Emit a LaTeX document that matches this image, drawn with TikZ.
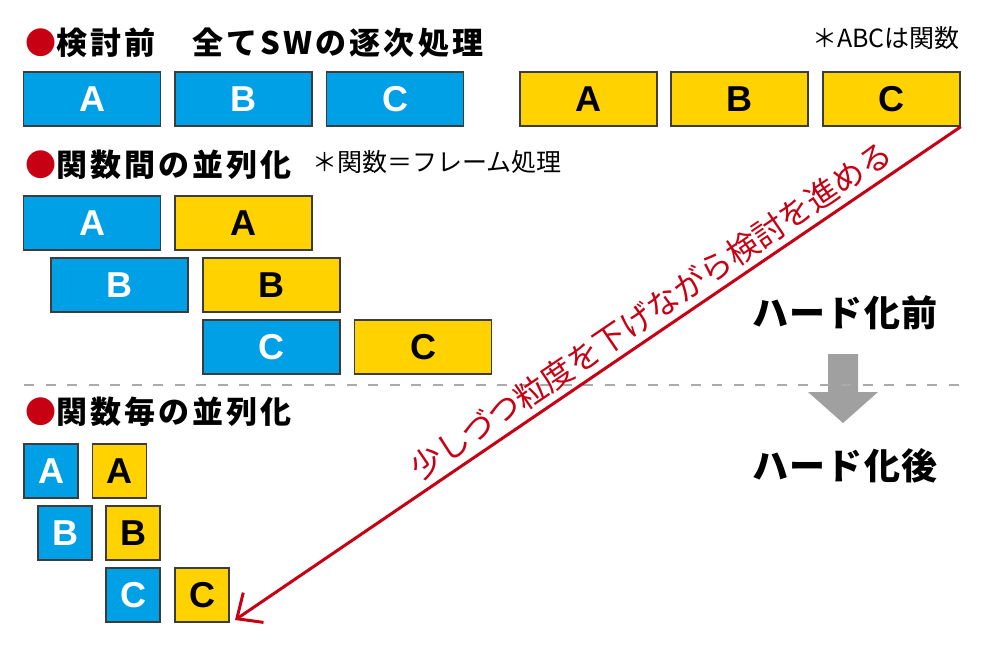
\documentclass[tikz,border=0pt]{standalone}
\usepackage{fontspec}
\setmainfont{Noto Sans CJK JP}
\newfontfamily\latinfont{Liberation Sans}
\usetikzlibrary{arrows.meta}
\definecolor{swblue}{RGB}{0,160,230}
\definecolor{hwyellow}{RGB}{255,210,0}
\definecolor{edgegray}{RGB}{60,60,60}
\definecolor{notered}{RGB}{200,0,20}
\definecolor{dashgray}{RGB}{170,170,170}
\definecolor{arrowgray}{RGB}{160,160,160}
\tikzset{
	funcbox/.style={draw=edgegray, line width=1.5pt, minimum height=54pt,
		inner sep=0pt, font=\latinfont\bfseries\fontsize{36}{36}\selectfont},
	swbox/.style={funcbox, fill=swblue, text=white},
	hwbox/.style={funcbox, fill=hwyellow, text=black},
	wide/.style={minimum width=137pt},
	narrow/.style={minimum width=54pt},
	heading/.style={anchor=west, inner sep=0pt,
		font=\bfseries\fontsize{31}{31}\selectfont\addfontfeature{LetterSpace=10}},
	remark/.style={inner sep=0pt, font=\fontsize{25}{25}\selectfont},
	stage/.style={inner sep=0pt,
		font=\bfseries\fontsize{36}{36}\selectfont\addfontfeature{LetterSpace=3}},
}

\begin{document}
\begin{tikzpicture}[x=1pt, y=-1pt]
\useasboundingbox (0,0) rectangle (985,645);

% headings
\node[heading] (head1) at (25,43) {\textcolor{notered}{●}検討前　全てSWの逐次処理};
\node[remark, anchor=east] (note1) at (960,38) {＊ABCは関数};
\node[heading] (head2) at (25,165) {\textcolor{notered}{●}関数間の並列化};
\node[remark, anchor=west] (note2) at (312,162) {＊関数＝フレーム処理};
\node[heading] (head3) at (25,412) {\textcolor{notered}{●}関数毎の並列化};

% sequential
\foreach \n/\x/\l in {a/92/A, b/243.5/B, c/395/C}
\node[swbox, wide] (sw1\n) at (\x,99) {\l};
\foreach \n/\x/\l in {a/588.5/A, b/739.5/B, c/891.5/C}
\node[hwbox, wide] (hw1\n) at (\x,99) {\l};

% between functions
\foreach \n/\x/\y/\l in {a/92/223/A, b/119.5/285/B, c/271.5/347/C}
\node[swbox, wide] (sw2\n) at (\x,\y) {\l};
\foreach \n/\x/\y/\l in {a/243.5/223/A, b/271.5/285/B, c/423/347/C}
\node[hwbox, wide] (hw2\n) at (\x,\y) {\l};

% per function
\foreach \n/\x/\y/\l in {a/51/471/A, b/65/533/B, c/133/595/C}
\node[swbox, narrow] (sw3\n) at (\x,\y) {\l};
\foreach \n/\x/\y/\l in {a/119.5/471/A, b/133/533/B, c/202/595/C}
\node[hwbox, narrow] (hw3\n) at (\x,\y) {\l};

% before / after
\fill[arrowgray] (828,354) -- (858,354) -- (858,392) -- (878,392)
	-- (843,423) -- (808,392) -- (828,392) -- cycle;
\draw[dashgray, line width=2.5pt, dash pattern=on 10pt off 11.5pt]
	(24,385) -- (962,385);
\node[stage] (before) at (845,313) {ハード化前};
\node[stage] (after) at (845,466) {ハード化後};

% granularity arrow
\coordinate (tip) at (235,620);
\draw[notered, line width=3pt, -{Straight Barb[length=20pt, width=36pt]}]
	(hw1c.south east) -- node[sloped, above, pos=0.41, inner sep=6pt,
	font=\fontsize{32}{32}\selectfont] (steps)
	{少しづつ粒度を下げながら検討を進める} (tip);
\end{tikzpicture}
\end{document}
